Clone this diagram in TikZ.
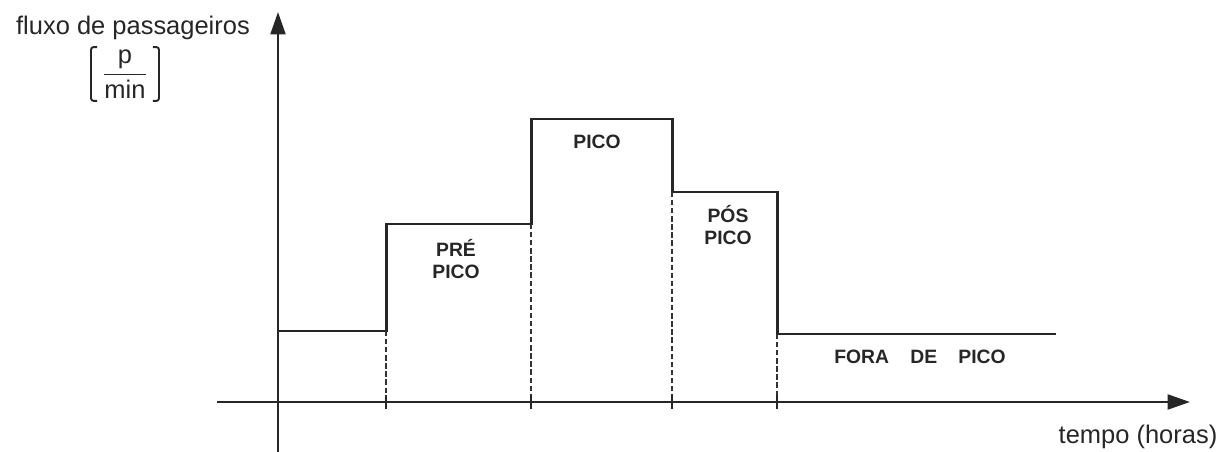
\documentclass[tikz,border=0pt]{standalone}
\usepackage{amsmath}
\usepackage{fontspec}
\setmainfont{Liberation Sans}
\usepackage{tikz}
\usetikzlibrary{arrows.meta,positioning}
\tikzstyle{axis}=[draw, line width=1.3pt, black!85,
   -{Triangle[length=0.45cm,width=0.3cm]}]
\tikzstyle{curve}=[draw, line width=1.7pt, black!85]
\tikzstyle{guide}=[draw, line width=0.9pt, black!80, dash pattern=on 3pt off 1.6pt]
\tikzstyle{tick}=[draw, line width=1.4pt, black!85]
\tikzstyle{bracket}=[draw, line width=1.1pt, black!85, rounded corners=1.5pt]
\tikzstyle{phase} =
  [font=\fontsize{11}{12.5}\selectfont\bfseries, align=center, text=black!85]
\tikzstyle{title}=[font=\fontsize{14.5}{17}\selectfont, text=black!85, inner sep=0pt]

\begin{document}
\begin{tikzpicture}[x=0.02cm, y=-0.02cm]
  \useasboundingbox (0,0) rectangle (1229,452);

  % axes
  \coordinate (xl) at (217,402);
  \coordinate (xr) at (1190,402);
  \coordinate (yb) at (278,452);
  \coordinate (yt) at (278,12);
  \draw [axis] (xl) -- (xr);
  \draw [axis] (yb) -- (yt);

  % passenger flow per period
  \coordinate (a0) at (278,331);
  \coordinate (a1) at (386,331);
  \coordinate (b0) at (386,224);
  \coordinate (b1) at (531,224);
  \coordinate (c0) at (531,119);
  \coordinate (c1) at (672,119);
  \coordinate (d0) at (672,192);
  \coordinate (d1) at (777,192);
  \coordinate (e0) at (777,334);
  \coordinate (e1) at (1056,334);
  \draw [curve] (a0) -- (a1) -- (b0) -- (b1) -- (c0) -- (c1)
     -- (d0) -- (d1) -- (e0) -- (e1);

  \draw [guide] (a1) -- (386,402);
  \draw [guide] (b1) -- (531,402);
  \draw [guide] (d0) -- (672,402);
  \draw [guide] (e0) -- (777,402);
  \draw [tick] (386,395) -- (386,409);
  \draw [tick] (531,395) -- (531,409);
  \draw [tick] (672,395) -- (672,409);
  \draw [tick] (777,395) -- (777,409);

  \node [phase] (pre) at (456,259) {PRÉ\\PICO};
  \node [phase] (pico) at (597,142) {PICO};
  \node [phase] (pos) at (728,225) {PÓS\\PICO};
  \node [phase] (fora) at (920,357) {FORA\hspace{1.1em}DE\hspace{1.1em}PICO};

  \node [title, anchor=base] (ylab) at (133,35) {fluxo de passageiros};
  \node [title, inner xsep=0.22cm, inner ysep=0.05cm] (unit) at (125,74)
     {$\dfrac{\text{p}}{\text{min}}$};
  \draw [bracket] ([xshift=0.12cm]unit.north west) -- (unit.north west)
     -- (unit.south west) -- ([xshift=0.12cm]unit.south west);
  \draw [bracket] ([xshift=-0.12cm]unit.north east) -- (unit.north east)
     -- (unit.south east) -- ([xshift=-0.12cm]unit.south east);
  \node [title] (xlab) at (1138,437) {tempo (horas)};
\end{tikzpicture}
\end{document}
